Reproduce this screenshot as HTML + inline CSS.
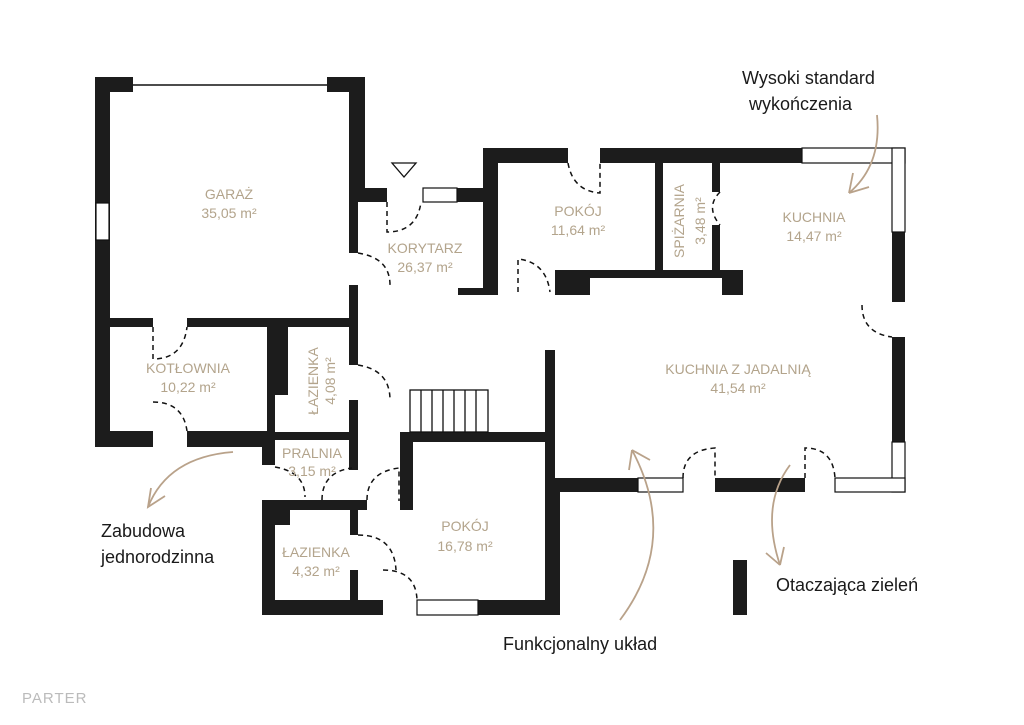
<!DOCTYPE html>
<html><head><meta charset="utf-8"><style>
body{margin:0;background:#fff;width:1024px;height:725px;overflow:hidden}
svg{display:block}
.l{font-family:"Liberation Sans",sans-serif;fill:#b3a48c;font-size:14px;text-anchor:middle}
.c{font-family:"Liberation Sans",sans-serif;fill:#1a1a1a;font-size:18px}
.d{fill:none;stroke:#111;stroke-width:1.5;stroke-dasharray:5 4}
.w{fill:#fff;stroke:#111;stroke-width:1.2}
.a{fill:none;stroke:#b9a28a;stroke-width:1.8}
</style></head><body>
<svg width="1024" height="725" viewBox="0 0 1024 725">
<g fill="#1c1c1c">
<rect x="95" y="77" width="38" height="15"/><rect x="327" y="77" width="38" height="15"/>
<rect x="95" y="77" width="15" height="370"/>
<rect x="349" y="77" width="16" height="111"/>
<rect x="349" y="188" width="38" height="14"/>
<rect x="349" y="188" width="9" height="65"/>
<rect x="349" y="285" width="9" height="80"/>
<rect x="349" y="400" width="9" height="70"/>
<rect x="110" y="318" width="43" height="9"/><rect x="187" y="318" width="162" height="9"/>
<rect x="95" y="431" width="58" height="16"/><rect x="187" y="431" width="88" height="16"/>
<rect x="267" y="327" width="21" height="68"/><rect x="267" y="327" width="8" height="120"/>
<rect x="262" y="432" width="96" height="8"/><rect x="262" y="432" width="13" height="33"/>
<rect x="457" y="188" width="41" height="14"/>
<rect x="483" y="148" width="15" height="144"/>
<rect x="483" y="148" width="85" height="15"/>
<rect x="600" y="148" width="202" height="15"/>
<rect x="458" y="288" width="40" height="7"/>
<rect x="555" y="270" width="188" height="8"/><rect x="555" y="270" width="35" height="25"/>
<rect x="722" y="270" width="21" height="25"/>
<rect x="655" y="163" width="8" height="107"/>
<rect x="712" y="163" width="8" height="29"/><rect x="712" y="225" width="8" height="45"/>
<rect x="892" y="232" width="13" height="70"/><rect x="892" y="337" width="13" height="105"/>
<rect x="545" y="350" width="10" height="265"/>
<rect x="555" y="478" width="83" height="14"/>
<rect x="715" y="478" width="90" height="14"/>
<rect x="400" y="432" width="155" height="10"/>
<rect x="400" y="432" width="13" height="78"/>
<rect x="547" y="478" width="13" height="137"/>
<rect x="478" y="600" width="82" height="15"/>
<rect x="262" y="500" width="105" height="10"/>
<rect x="262" y="500" width="13" height="115"/><rect x="262" y="510" width="28" height="15"/>
<rect x="262" y="600" width="121" height="15"/>
<rect x="350" y="500" width="8" height="35"/><rect x="350" y="570" width="8" height="30"/>
<rect x="733" y="560" width="14" height="55"/>
</g>
<line x1="133" y1="85" x2="327" y2="85" stroke="#111" stroke-width="1.5"/>
<rect class="w" x="96" y="203" width="13" height="37"/>
<rect class="w" x="423" y="188" width="34" height="14"/>
<rect class="w" x="802" y="148" width="103" height="15"/>
<rect class="w" x="892" y="148" width="13" height="84"/>
<rect class="w" x="892" y="442" width="13" height="50"/>
<rect class="w" x="835" y="478" width="70" height="14"/>
<rect class="w" x="638" y="478" width="45" height="14"/>
<rect class="w" x="417" y="600" width="61" height="15"/>
<g stroke="#111" stroke-width="1.3" fill="none">
<rect x="410" y="390" width="78" height="42"/>
<line x1="421" y1="390" x2="421" y2="432"/><line x1="432" y1="390" x2="432" y2="432"/>
<line x1="443" y1="390" x2="443" y2="432"/><line x1="454" y1="390" x2="454" y2="432"/>
<line x1="465" y1="390" x2="465" y2="432"/><line x1="476" y1="390" x2="476" y2="432"/>
<path d="M392 163h24l-12 14z"/>
</g>
<path class="d" d="M387 202v30q30 0 34-30"/>
<path class="d" d="M358 253q32 5 32 32"/>
<path class="d" d="M358 365q32 5 32 35"/>
<path class="d" d="M153 327v32q30 0 34-32"/>
<path class="d" d="M153 402q30 0 34 29"/>
<path class="d" d="M568 163q5 28 32 30v-30"/>
<path class="d" d="M518 292v-33q28 3 32 33"/>
<path class="d" d="M720 192q-15 15 0 33"/>
<path class="d" d="M862 305q0 28 30 32"/>
<path class="d" d="M683 478q0-28 32-30v30"/>
<path class="d" d="M805 478v-30q28 0 30 30"/>
<path class="d" d="M275 467q30 5 30 30"/>
<path class="d" d="M322 500q0-28 30-32"/>
<path class="d" d="M367 500q0-28 32-32v33"/>
<path class="d" d="M358 535q36 0 38 35"/>
<path class="d" d="M383 570q33 0 34 30"/>
<path class="a" d="M233 452q-65 5 -85 55"/><path class="a" d="M151 488l-3 19 17-11"/>
<path class="a" d="M877 115q5 50 -28 78"/><path class="a" d="M849 193l20-6M849 193l4-20"/>
<path class="a" d="M620 620q60-80 12-170"/><path class="a" d="M632 450l-3 20M632 450l18 10"/>
<path class="a" d="M790 465q-30 40 -10 100"/><path class="a" d="M780 565l-14-12M780 565l4-18"/>
<text class="l" x="229" y="199">GARAŻ</text><text class="l" x="229" y="218">35,05 m²</text>
<text class="l" x="425" y="253">KORYTARZ</text><text class="l" x="425" y="272">26,37 m²</text>
<text class="l" x="578" y="216">POKÓJ</text><text class="l" x="578" y="235">11,64 m²</text>
<text class="l" x="814" y="222">KUCHNIA</text><text class="l" x="814" y="241">14,47 m²</text>
<text class="l" x="738" y="374">KUCHNIA Z JADALNIĄ</text><text class="l" x="738" y="393">41,54 m²</text>
<text class="l" x="188" y="373">KOTŁOWNIA</text><text class="l" x="188" y="392">10,22 m²</text>
<text class="l" x="312" y="458">PRALNIA</text><text class="l" x="312" y="476">3,15 m²</text>
<text class="l" x="465" y="531">POKÓJ</text><text class="l" x="465" y="551">16,78 m²</text>
<text class="l" x="316" y="557">ŁAZIENKA</text><text class="l" x="316" y="576">4,32 m²</text>
<text class="l" transform="translate(318,381) rotate(-90)">ŁAZIENKA</text>
<text class="l" transform="translate(335,381) rotate(-90)">4,08 m²</text>
<text class="l" transform="translate(684,221) rotate(-90)">SPIŻARNIA</text>
<text class="l" transform="translate(705,221) rotate(-90)">3,48 m²</text>
<text class="c" x="742" y="84">Wysoki standard</text><text class="c" x="749" y="110">wykończenia</text>
<text class="c" x="101" y="537">Zabudowa</text><text class="c" x="101" y="563">jednorodzinna</text>
<text class="c" x="776" y="591">Otaczająca zieleń</text>
<text class="c" x="503" y="650">Funkcjonalny układ</text>
<text x="22" y="703" style="font-family:'Liberation Sans',sans-serif;font-size:15px;fill:#bbb;letter-spacing:1px">PARTER</text>
</svg>
</body></html>
